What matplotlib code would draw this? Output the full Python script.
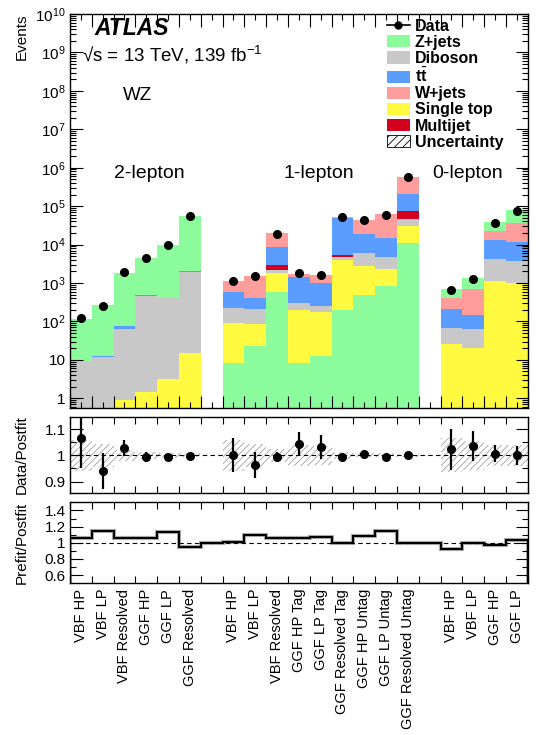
import numpy as np
import matplotlib
matplotlib.use('Agg')
import matplotlib.pyplot as plt
from matplotlib.patches import Patch
from matplotlib.lines import Line2D
from matplotlib.ticker import FixedLocator, LogLocator, NullFormatter

plt.rcParams['font.family'] = ['Liberation Sans', 'DejaVu Sans']
plt.rcParams['mathtext.fontset'] = 'custom'
plt.rcParams['mathtext.rm'] = 'Liberation Sans'
plt.rcParams['mathtext.it'] = 'Liberation Sans:italic'
plt.rcParams['mathtext.bf'] = 'Liberation Sans:bold'
plt.rcParams['hatch.linewidth'] = 0.6

# categories
labels_2l = ['VBF HP', 'VBF LP', 'VBF Resolved', 'GGF HP', 'GGF LP', 'GGF Resolved']
labels_1l = ['VBF HP', 'VBF LP', 'VBF Resolved', 'GGF HP Tag', 'GGF LP Tag',
             'GGF Resolved Tag', 'GGF HP Untag', 'GGF LP Untag', 'GGF Resolved Untag']
labels_0l = ['VBF HP', 'VBF LP', 'GGF HP', 'GGF LP']

# postfit yields (2-lepton, 1-lepton, 0-lepton)
zjets = [108, 257, 1774, 3975, 9455, 54000,
         8.3, 23, 577, 8.3, 12.7, 202, 474, 826, 10700,
         282, 653, 17230, 43700]
diboson = [9.2, 11.7, 61, 468, 422, 1885,
           130, 127, 435, 107, 66, 670, 3325, 2395, 16800,
           43.5, 44.5, 2980, 2830]
ttbar = [0.3, 1.0, 14, 5, 20, 100,
         354, 199, 5430, 1115, 784, 43750, 12650, 10030, 128500,
         137, 85, 8960, 8080]
wjets = [0, 0, 0, 0, 0, 0,
         583, 1126, 11050, 315, 570, 4800, 25500, 46200, 371000,
         192, 530, 8870, 24400]
singletop = [0, 0, 0.9, 1.45, 3.1, 15,
             84.7, 65, 1218, 184.7, 167.3, 3788, 2251, 1549, 20200,
             25.5, 20.5, 1160, 990]
multijet = [0, 0, 0, 0, 0, 0,
            0, 0, 790, 0, 0, 590, 0, 0, 27800,
            0, 0, 0, 0]

data = [122, 250, 1900, 4400, 9800, 56000,
        1130, 1480, 19000, 1780, 1630, 52500, 43500, 59000, 570000,
        660, 1300, 37500, 76000]

# Data/Postfit
ratio = [1.068, 0.941, 1.027, 0.994, 0.994, 0.998,
         1.0, 0.964, 0.994, 1.045, 1.032, 0.994, 1.005, 0.994, 1.0,
         1.023, 1.037, 1.006, 1.0]
ratio_err = [0.115, 0.07, 0.03, 0.02, 0.006, 0.004,
             0.065, 0.05, 0.02, 0.045, 0.047, 0.01, 0.006, 0.005, 0.003,
             0.077, 0.057, 0.033, 0.037]
unc = [0.06, 0.045, 0.02, 0.012, 0.01, 0.008,
       0.06, 0.045, 0.025, 0.04, 0.035, 0.012, 0.008, 0.008, 0.006,
       0.065, 0.055, 0.04, 0.04]

# Prefit/Postfit, every bin incl. the two empty gap bins
prefit = [1.061, 1.143, 1.056, 1.056, 1.13, 0.951, 1.0,
          1.006, 1.098, 1.056, 1.065, 1.069, 1.0, 1.081, 1.143, 1.0, 1.0,
          0.926, 0.996, 0.971, 1.04]

colors = {'zjets': '#8cfb9c', 'diboson': '#c8c8c8', 'ttbar': '#5a9cff',
          'wjets': '#ff9c9c', 'singletop': '#fff93f', 'multijet': '#d2001e'}
yields = {'zjets': zjets, 'diboson': diboson, 'ttbar': ttbar,
          'wjets': wjets, 'singletop': singletop, 'multijet': multijet}

# region layout: first bin index, labels, stacking order (bottom -> top)
order_a = ['singletop', 'diboson', 'multijet', 'ttbar', 'wjets', 'zjets']
order_b = ['zjets', 'singletop', 'diboson', 'multijet', 'ttbar', 'wjets']
regions = [(0, labels_2l, order_a), (7, labels_1l, order_b), (17, labels_0l, order_a)]

pos = []
for start, labs, _ in regions:
    pos += [start + i for i in range(len(labs))]
pos = np.array(pos)
xlabels = labels_2l + labels_1l + labels_0l
nbins = 21

W, H = 538, 735
fig = plt.figure(figsize=(W / 100, H / 100), dpi=100)
L, R = 70 / W, 527.7 / W


def box(top, bottom):
    return [L, 1 - bottom / H, R - L, (bottom - top) / H]


def px(x, y):
    return x / W, 1 - y / H


ax = fig.add_axes(box(14, 408.3))
ax2 = fig.add_axes(box(416.7, 493.3))
ax3 = fig.add_axes(box(502.3, 583.3))

# stacked histograms
k = 0
for start, labs, order in regions:
    n = len(labs)
    idx = np.arange(k, k + n)
    bottom = np.zeros(n)
    for p in order:
        h = np.array(yields[p], dtype=float)[idx]
        ax.bar(pos[idx], h, bottom=bottom, width=1.0, align='edge',
               color=colors[p], linewidth=0)
        bottom += h
    k += n

ax.plot(pos + 0.5, data, 'o', color='black', ms=5.5, zorder=5)
ax.set_yscale('log')
ax.set_ylim(0.55, 1e10)
ax.set_xlim(0, nbins)

yt = [10.0 ** i for i in range(0, 11)]
ax.yaxis.set_major_locator(FixedLocator(yt))
ax.set_yticklabels(['1', '10'] + [r'10$^{%d}$' % i for i in range(2, 11)])
ax.yaxis.set_minor_locator(LogLocator(base=10, subs=np.arange(2, 10), numticks=20))
ax.yaxis.set_minor_formatter(NullFormatter())
ax.xaxis.set_major_locator(FixedLocator(np.arange(0, nbins + 1)))
ax.xaxis.set_minor_locator(FixedLocator(np.arange(nbins) + 0.5))
ax.set_xticklabels([])

for a in (ax, ax2, ax3):
    a.tick_params(which='both', direction='in', top=True, right=True, labelsize=11,
                  width=0.8, pad=3)
    a.tick_params(which='major', length=9)
    a.tick_params(which='minor', length=4.5)
    for s in a.spines.values():
        s.set_linewidth(1.0)

# text
fig.text(*px(94, 35), 'ATLAS', fontsize=16.5, fontweight='bold', fontstyle='italic',
         va='baseline')
fig.text(*px(82, 61), '\u221as = 13 TeV, 139 fb$^{-1}$', fontsize=13.5, va='baseline')
fig.text(*px(123, 100), 'WZ', fontsize=13.5, va='baseline')
for xc, t in [(149, '2-lepton'), (318.5, '1-lepton'), (468, '0-lepton')]:
    fig.text(*px(xc, 178), t, fontsize=14, ha='center', va='baseline')

handles = [Line2D([0], [0], color='black', marker='o', ms=5, lw=1.2),
           Patch(facecolor=colors['zjets']), Patch(facecolor=colors['diboson']),
           Patch(facecolor=colors['ttbar']), Patch(facecolor=colors['wjets']),
           Patch(facecolor=colors['singletop']), Patch(facecolor=colors['multijet']),
           Patch(facecolor='white', edgecolor='black', hatch='////', linewidth=0.6)]
names = ['Data', 'Z+jets', 'Diboson', r'$\mathbf{t}\bar{\mathbf{t}}$', 'W+jets',
         'Single top', 'Multijet', 'Uncertainty']
ax.legend(handles, names, loc='upper left', bbox_to_anchor=(382 / W, 1 - 14 / H),
          bbox_transform=fig.transFigure, frameon=False, borderpad=0.3,
          prop={'weight': 'bold', 'size': 11.5}, handlelength=1.45, handleheight=0.8,
          labelspacing=0.07, handletextpad=0.3, borderaxespad=0)

# Data/Postfit panel
xe = np.arange(nbins + 1)
for j, p in enumerate(pos):
    ax2.fill_between([p, p + 1], 1 - unc[j], 1 + unc[j], facecolor='none',
                     edgecolor='#a0a0a0', hatch='/////', linewidth=0)
ax2.axhline(1, color='black', lw=0.8, dashes=(4, 3))
ax2.errorbar(pos + 0.5, ratio, yerr=ratio_err, fmt='o', color='black', ms=5.5,
             elinewidth=1.6, capsize=0, zorder=5)
ax2.set_xlim(0, nbins)
ax2.set_ylim(0.855, 1.148)
ax2.yaxis.set_major_locator(FixedLocator([0.9, 1.0, 1.1]))
ax2.set_yticklabels(['0.9', '1', '1.1'])
ax2.yaxis.set_minor_locator(FixedLocator([0.95, 1.05]))
ax2.xaxis.set_major_locator(FixedLocator(xe))
ax2.xaxis.set_minor_locator(FixedLocator([]))
ax2.set_xticklabels([])
ax2.tick_params(which='major', axis='x', length=5)

# Prefit/Postfit panel
ax3.stairs(prefit, xe, color='#b0b0b0', lw=3.0)
ax3.stairs(prefit, xe, color='black', lw=1.5)
ax3.axhline(1, color='black', lw=0.8, dashes=(4, 3))
ax3.set_xlim(0, nbins)
ax3.set_ylim(0.5, 1.5)
ax3.yaxis.set_major_locator(FixedLocator([0.6, 0.8, 1.0, 1.2, 1.4]))
ax3.set_yticklabels(['0.6', '0.8', '1', '1.2', '1.4'])
ax3.yaxis.set_minor_locator(FixedLocator([0.7, 0.9, 1.1, 1.3]))
ax3.xaxis.set_major_locator(FixedLocator(xe))
ax3.set_xticklabels([])
ax3.xaxis.set_minor_locator(FixedLocator(pos + 0.5))
ax3.xaxis.set_ticklabels(xlabels, minor=True, rotation=90, fontsize=10.5)
ax3.tick_params(which='minor', axis='x', length=0, pad=4)
ax3.tick_params(which='major', axis='x', length=5)

fig.text(*px(22, 14), 'Events', rotation=90, ha='center', va='top', fontsize=11)
fig.text(*px(22, 455), 'Data/Postfit', rotation=90, ha='center', va='center', fontsize=11)
fig.text(*px(22, 543), 'Prefit/Postfit', rotation=90, ha='center', va='center', fontsize=11)

fig.savefig('out.png', dpi=100)
